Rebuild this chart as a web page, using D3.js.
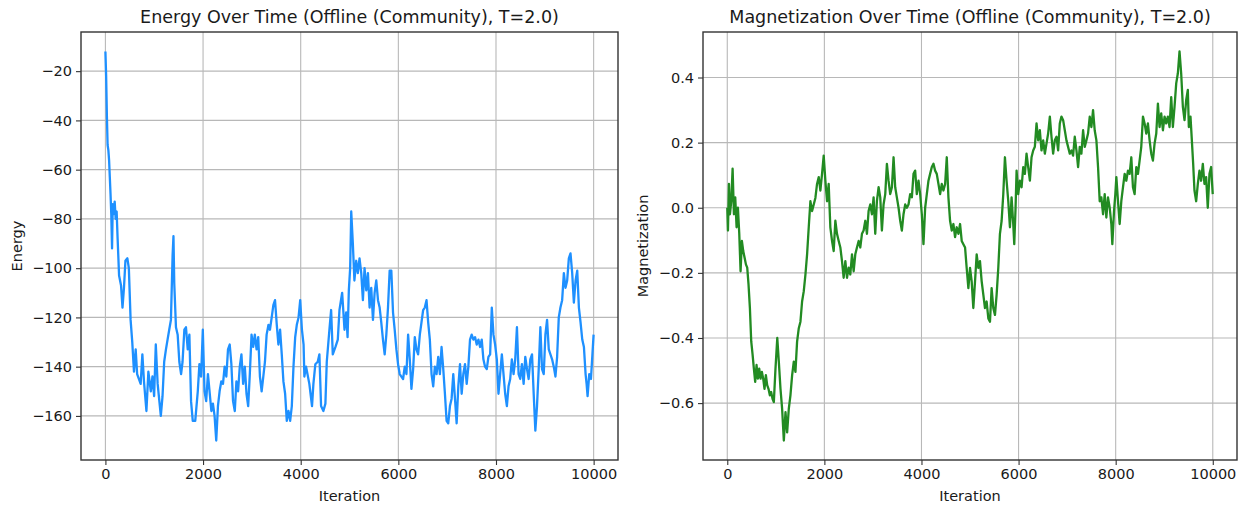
<!DOCTYPE html>
<html>
<head>
<meta charset="utf-8">
<script src="https://cdn.jsdelivr.net/npm/d3@7"></script>
<style>
  html, body { margin: 0; padding: 0; background: #ffffff; }
  svg { display: block; font-family: "DejaVu Sans", sans-serif; }
</style>
</head>
<body>
<svg id="chart" width="1246" height="506"></svg>
<script>
// Energy trace of the Monte Carlo run (iteration, energy)
const energyIterations = [
  0, 15, 30, 45, 60, 75, 90, 105, 120, 136, 150, 170, 190, 210, 230, 250, 280, 320, 350, 380,
  410, 450, 480, 516, 550, 585, 620, 650, 722, 757, 790, 840, 880, 930, 963, 998, 1032, 1070, 1135, 1170,
  1204, 1240, 1273, 1307, 1342, 1376, 1394, 1410, 1445, 1480, 1514, 1550, 1580, 1617, 1650, 1686, 1720, 1754, 1789, 1840,
  1892, 1925, 1960, 1995, 2030, 2064, 2100, 2133, 2170, 2202, 2236, 2270, 2305, 2339, 2373, 2408, 2442, 2477, 2511, 2546,
  2580, 2614, 2650, 2683, 2718, 2752, 2786, 2821, 2855, 2890, 2924, 2958, 2993, 3027, 3060, 3096, 3130, 3165, 3200, 3234,
  3268, 3302, 3340, 3370, 3406, 3440, 3474, 3510, 3543, 3578, 3612, 3646, 3681, 3715, 3750, 3784, 3818, 3852, 3887, 3920,
  3956, 3990, 4025, 4059, 4075, 4110, 4177, 4232, 4260, 4300, 4349, 4383, 4417, 4465, 4506, 4534, 4588, 4623, 4657, 4712,
  4760, 4794, 4849, 4897, 4931, 4960, 4986, 5013, 5035, 5068, 5100, 5137, 5170, 5205, 5240, 5274, 5308, 5343, 5377, 5411,
  5445, 5480, 5514, 5548, 5583, 5617, 5650, 5685, 5720, 5754, 5788, 5822, 5856, 5891, 5925, 5960, 5994, 6028, 6062, 6097,
  6131, 6166, 6200, 6234, 6268, 6303, 6337, 6371, 6405, 6440, 6474, 6508, 6542, 6577, 6611, 6645, 6680, 6714, 6748, 6783,
  6817, 6851, 6885, 6920, 6954, 6988, 7022, 7057, 7091, 7125, 7160, 7194, 7228, 7263, 7297, 7331, 7365, 7400, 7434, 7468,
  7502, 7537, 7571, 7605, 7640, 7674, 7708, 7742, 7776, 7811, 7845, 7880, 7914, 7948, 7982, 8017, 8051, 8085, 8120, 8154,
  8188, 8223, 8257, 8291, 8325, 8360, 8394, 8429, 8463, 8497, 8531, 8566, 8600, 8635, 8669, 8703, 8738, 8772, 8806, 8840,
  8875, 8909, 8943, 8978, 9012, 9046, 9081, 9115, 9149, 9183, 9218, 9252, 9286, 9320, 9355, 9390, 9424, 9458, 9492, 9526,
  9561, 9595, 9630, 9664, 9698, 9732, 9767, 9801, 9835, 9856, 9876, 9910, 9945, 9999
];
const energyValues = [
  -12, -22, -38, -50, -52, -56, -63, -70, -78, -92, -74, -78, -73, -80, -77, -88, -103, -107, -116, -108,
  -97, -96, -100, -121, -130, -142, -133, -143, -147, -135, -146, -158, -142, -150, -144, -152, -131, -147, -160, -152,
  -138, -133, -129, -125, -121, -95, -87, -106, -124, -127, -138, -143, -138, -125, -124, -133, -127, -154, -162, -162,
  -150, -139, -144, -125, -150, -154, -143, -150, -158, -155, -160, -170, -156, -150, -146, -147, -140, -144, -133, -131,
  -139, -154, -158, -146, -150, -140, -135, -147, -140, -151, -156, -143, -127, -132, -127, -133, -128, -144, -150, -144,
  -138, -127, -123, -125, -120, -115, -113, -123, -131, -125, -135, -146, -151, -162, -158, -162, -156, -140, -128, -123,
  -120, -113, -125, -131, -144, -140, -147, -156, -147, -139, -138, -135, -156, -158, -155, -138, -125, -117, -135, -132,
  -129, -117, -110, -125, -118, -128, -109, -100, -77, -90, -105, -97, -102, -96, -102, -113, -100, -109, -102, -116,
  -108, -121, -110, -105, -113, -116, -122, -129, -135, -127, -116, -101, -101, -118, -125, -133, -139, -143, -144, -145,
  -140, -143, -127, -137, -149, -141, -128, -133, -135, -127, -122, -117, -116, -113, -122, -129, -143, -148, -140, -143,
  -136, -143, -132, -141, -151, -162, -163, -156, -153, -143, -153, -163, -148, -139, -151, -143, -139, -147, -140, -129,
  -127, -129, -128, -131, -129, -132, -129, -137, -140, -141, -136, -135, -116, -127, -131, -137, -151, -143, -135, -143,
  -151, -156, -148, -145, -137, -143, -137, -124, -143, -145, -139, -147, -136, -141, -145, -137, -135, -151, -166, -156,
  -141, -124, -141, -143, -127, -121, -133, -135, -137, -140, -144, -136, -120, -116, -113, -102, -108, -105, -96, -94,
  -102, -114, -105, -101, -116, -122, -129, -132, -143, -147, -152, -143, -145, -127
];

// Magnetization trace of the same run (iteration, magnetization)
const magnetIterations = [
  0, 14, 34, 55, 82, 110, 137, 164, 192, 219, 247, 274, 301, 329, 356, 384, 411, 438, 466, 493,
  521, 548, 575, 603, 630, 658, 685, 712, 740, 767, 795, 822, 849, 877, 904, 932, 959, 993, 1030, 1062,
  1096, 1130, 1165, 1199, 1233, 1267, 1301, 1336, 1370, 1404, 1438, 1473, 1507, 1541, 1575, 1610, 1644, 1678, 1712, 1747,
  1781, 1815, 1849, 1884, 1918, 1952, 1986, 2021, 2055, 2089, 2123, 2158, 2192, 2226, 2260, 2295, 2329, 2363, 2397, 2432,
  2466, 2500, 2534, 2569, 2603, 2637, 2671, 2706, 2740, 2774, 2808, 2843, 2877, 2911, 2945, 2980, 3014, 3048, 3082, 3117,
  3151, 3185, 3219, 3254, 3288, 3322, 3356, 3391, 3425, 3459, 3493, 3528, 3562, 3596, 3630, 3665, 3699, 3733, 3767, 3802,
  3836, 3870, 3904, 3939, 3973, 4007, 4041, 4076, 4110, 4144, 4178, 4213, 4247, 4281, 4315, 4350, 4384, 4418, 4452, 4487,
  4521, 4555, 4589, 4624, 4658, 4692, 4726, 4761, 4795, 4829, 4863, 4898, 4931, 4966, 5000, 5034, 5068, 5103, 5137, 5171,
  5205, 5240, 5274, 5308, 5342, 5377, 5411, 5445, 5479, 5514, 5548, 5582, 5616, 5651, 5685, 5719, 5753, 5788, 5822, 5856,
  5890, 5911, 5938, 5959, 5993, 6027, 6062, 6096, 6130, 6164, 6198, 6233, 6267, 6301, 6335, 6370, 6404, 6438, 6472, 6507,
  6541, 6575, 6609, 6644, 6678, 6712, 6746, 6781, 6815, 6849, 6883, 6918, 6952, 6986, 7020, 7055, 7089, 7123, 7157, 7192,
  7226, 7260, 7294, 7329, 7363, 7397, 7431, 7466, 7500, 7534, 7568, 7603, 7637, 7671, 7705, 7740, 7774, 7808, 7842, 7877,
  7911, 7931, 7966, 7993, 8014, 8048, 8082, 8116, 8151, 8185, 8219, 8253, 8288, 8322, 8356, 8390, 8425, 8459, 8493, 8527,
  8562, 8596, 8630, 8664, 8699, 8733, 8767, 8801, 8836, 8870, 8904, 8938, 8973, 9007, 9041, 9075, 9110, 9144, 9178, 9212,
  9247, 9281, 9315, 9349, 9384, 9418, 9452, 9486, 9507, 9541, 9569, 9596, 9623, 9658, 9692, 9726, 9760, 9795, 9829, 9863,
  9897, 9932, 9966, 9999
];
const magnetValues = [
  0.0, -0.07, 0.073, -0.02, 0.02, 0.12, -0.02, 0.032, -0.06, 0.0, -0.08, -0.195, -0.102, -0.133, -0.153, -0.174, -0.184, -0.236, -0.308, -0.41,
  -0.45, -0.494, -0.535, -0.483, -0.525, -0.494, -0.525, -0.504, -0.525, -0.556, -0.514, -0.545, -0.556, -0.576, -0.566, -0.587, -0.597, -0.494, -0.40, -0.473,
  -0.556, -0.618, -0.715, -0.628, -0.69, -0.618, -0.576, -0.514, -0.473, -0.504, -0.411, -0.37, -0.35, -0.288, -0.257, -0.205, -0.143, -0.06, 0.02, -0.01,
  0.01, 0.03, 0.073, 0.094, 0.053, 0.104, 0.16, 0.083, 0.02, 0.073, -0.06, -0.102, -0.133, -0.04, -0.08, -0.102, -0.122, -0.164, -0.215, -0.164,
  -0.215, -0.184, -0.205, -0.143, -0.195, -0.143, -0.122, -0.102, -0.122, -0.08, -0.07, -0.04, -0.08, -0.01, 0.01, -0.02, 0.032, -0.08, 0.02, 0.063,
  0.032, -0.07, 0.01, 0.042, 0.135, 0.083, 0.042, 0.063, 0.155, 0.063, 0.032, 0.0, -0.04, -0.07, -0.02, 0.01, 0.0, 0.01, 0.042, 0.032,
  0.104, 0.114, 0.042, 0.083, 0.042, -0.02, -0.112, 0.0, 0.042, 0.083, 0.104, 0.125, 0.135, 0.114, 0.104, 0.073, 0.042, 0.073, 0.053, 0.073,
  0.155, 0.032, -0.04, -0.07, -0.05, -0.09, -0.06, -0.08, -0.05, -0.102, -0.112, -0.122, -0.185, -0.247, -0.185, -0.226, -0.308, -0.226, -0.143, -0.185,
  -0.164, -0.226, -0.267, -0.308, -0.288, -0.34, -0.35, -0.247, -0.308, -0.329, -0.267, -0.185, -0.08, -0.04, 0.042, 0.155, 0.083, 0.02, -0.06, 0.032,
  -0.05, -0.112, 0.0, 0.114, 0.042, 0.083, 0.063, 0.125, 0.104, 0.166, 0.125, 0.083, 0.155, 0.176, 0.187, 0.259, 0.207, 0.238, 0.176, 0.207,
  0.166, 0.197, 0.228, 0.28, 0.218, 0.166, 0.207, 0.218, 0.176, 0.259, 0.28, 0.269, 0.238, 0.207, 0.187, 0.166, 0.176, 0.16, 0.218, 0.176,
  0.125, 0.187, 0.166, 0.238, 0.187, 0.207, 0.228, 0.28, 0.248, 0.30, 0.238, 0.207, 0.125, 0.02, 0.032, -0.02, 0.042, -0.03, 0.032, 0.0,
  -0.05, -0.112, -0.01, 0.042, 0.094, 0.02, -0.05, 0.02, 0.063, 0.104, 0.083, 0.114, 0.104, 0.155, 0.063, 0.042, 0.125, 0.104, 0.145, 0.187,
  0.28, 0.259, 0.228, 0.259, 0.207, 0.166, 0.145, 0.197, 0.228, 0.32, 0.248, 0.29, 0.238, 0.28, 0.259, 0.28, 0.248, 0.34, 0.248, 0.31,
  0.382, 0.413, 0.48, 0.413, 0.31, 0.269, 0.33, 0.362, 0.248, 0.28, 0.207, 0.135, 0.053, 0.02, 0.073, 0.114, 0.083, 0.135, 0.073, 0.094,
  0.0, 0.104, 0.125, 0.042
];

// Tick values and text
const iterationTicks = [0, 2000, 4000, 6000, 8000, 10000];
const energyTicks = [-160, -140, -120, -100, -80, -60, -40, -20];
const magnetTicks = [-0.6, -0.4, -0.2, 0.0, 0.2, 0.4];
const panelTitles = [
  "Energy Over Time (Offline (Community), T=2.0)",
  "Magnetization Over Time (Offline (Community), T=2.0)"
];
const yLabels = ["Energy", "Magnetization"];
const xLabel = "Iteration";

const svg = d3.select("#chart");

// Autoscale with a 5% margin on each side of the data range
function padded(extent) {
  const span = extent[1] - extent[0];
  return [extent[0] - span * 0.05, extent[1] + span * 0.05];
}

function drawPanel(opts) {
  const { left, right, top, bottom, xs, ys, yTicks, yFormat, color, title, yLabel, yLabelX, id } = opts;
  const x = d3.scaleLinear().domain(padded(d3.extent(xs))).range([left, right]);
  const y = d3.scaleLinear().domain(padded(d3.extent(ys))).range([bottom, top]);
  const g = svg.append("g");

  // grid
  g.append("g").selectAll("line").data(iterationTicks).join("line")
    .attr("x1", d => x(d)).attr("x2", d => x(d))
    .attr("y1", top).attr("y2", bottom)
    .attr("stroke", "#b8b8b8").attr("stroke-width", 1.1);
  g.append("g").selectAll("line").data(yTicks).join("line")
    .attr("x1", left).attr("x2", right)
    .attr("y1", d => y(d)).attr("y2", d => y(d))
    .attr("stroke", "#b8b8b8").attr("stroke-width", 1.1);

  // data line
  svg.append("clipPath").attr("id", id).append("rect")
    .attr("x", left).attr("y", top).attr("width", right - left).attr("height", bottom - top);
  const line = d3.line().x(d => x(d[0])).y(d => y(d[1]));
  g.append("path")
    .datum(xs.map((v, i) => [v, ys[i]]))
    .attr("clip-path", `url(#${id})`)
    .attr("fill", "none")
    .attr("stroke", color)
    .attr("stroke-width", 2.3)
    .attr("stroke-linejoin", "round")
    .attr("d", line);

  // axes
  const xAxis = g.append("g").attr("transform", `translate(0,${bottom})`)
    .call(d3.axisBottom(x).tickValues(iterationTicks).tickFormat(d3.format("d")).tickSize(5).tickPadding(4));
  const yAxis = g.append("g").attr("transform", `translate(${left},0)`)
    .call(d3.axisLeft(y).tickValues(yTicks).tickFormat(yFormat).tickSize(5).tickPadding(4));
  [xAxis, yAxis].forEach(a => {
    a.select(".domain").remove();
    a.selectAll(".tick line").attr("stroke", "#333").attr("stroke-width", 1.1);
    a.selectAll(".tick text").attr("fill", "#1a1a1a").style("font-size", "14.5px")
      .style("font-family", "'DejaVu Sans', sans-serif");
  });

  // frame
  g.append("rect").attr("x", left).attr("y", top)
    .attr("width", right - left).attr("height", bottom - top)
    .attr("fill", "none").attr("stroke", "#333").attr("stroke-width", 1.4);

  // title and labels
  g.append("text").attr("x", (left + right) / 2).attr("y", 23)
    .attr("text-anchor", "middle").attr("fill", "#1a1a1a")
    .style("font-size", "17.5px").text(title);
  g.append("text").attr("x", (left + right) / 2).attr("y", 501)
    .attr("text-anchor", "middle").attr("fill", "#1a1a1a")
    .style("font-size", "14.5px").text(xLabel);
  g.append("text")
    .attr("transform", `translate(${yLabelX},${(top + bottom) / 2}) rotate(-90)`)
    .attr("text-anchor", "middle").attr("fill", "#1a1a1a")
    .style("font-size", "14.5px").text(yLabel);
}

drawPanel({
  id: "clip-energy", left: 81, right: 618, top: 32, bottom: 460,
  xs: energyIterations, ys: energyValues, yTicks: energyTicks, yFormat: d3.format("d"),
  color: "#1e90ff", title: panelTitles[0], yLabel: yLabels[0], yLabelX: 22
});
drawPanel({
  id: "clip-magnet", left: 703, right: 1237, top: 32, bottom: 460,
  xs: magnetIterations, ys: magnetValues, yTicks: magnetTicks, yFormat: d3.format(".1f"),
  color: "#228b22", title: panelTitles[1], yLabel: yLabels[1], yLabelX: 648
});
</script>
</body>
</html>
